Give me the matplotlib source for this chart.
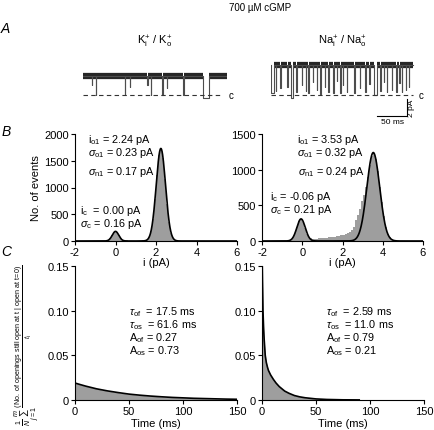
import numpy as np
import matplotlib
matplotlib.use("Agg")
import matplotlib.pyplot as plt

plt.rcParams["font.family"] = ["Liberation Sans", "DejaVu Sans"]
plt.rcParams["font.size"] = 8
plt.rcParams["mathtext.fontset"] = "custom"
plt.rcParams["mathtext.rm"] = "Liberation Sans"
plt.rcParams["mathtext.it"] = "Liberation Sans:italic"
plt.rcParams["mathtext.bf"] = "Liberation Sans:bold"
plt.rcParams["axes.unicode_minus"] = False

# ---- data ----
# A: single channel traces (open level in pA, closures: start ms, duration ms, level pA)
k_open = 2.24
k_closures = [(15, 0.5, 1.2), (21.7, 0.6, 0), (70, 0.5, 0), (78, 0.5, 1.0), (107, 0.5, 1.2),
              (113, 0.5, 0), (132, 0.6, 0), (140, 0.5, 0.8), (167, 0.5, 0), (200, 10, -0.3)]
k_end = 240
na_open = 3.53
na_closures = [(0, 5, 0.2), (8, 1.0, 0.5), (15, 1.0, 0.8), (27, 0.6, 1.0), (33, 3, -0.4),
               (42, 1.0, 0.3), (51, 0.6, 1.2), (58, 0.8, 0.5), (62, 1.0, 0.2), (70, 0.6, 1.5),
               (76, 1.0, 0.6), (82, 1.0, 0.1), (90, 0.6, 1.0), (95, 1.0, 0.3), (104, 0.6, 0.2),
               (110, 0.6, 1.6), (115, 1.0, 0.2), (120, 0.6, 1.2), (126, 0.8, 0.4), (138, 1.5, 0.2),
               (148, 0.6, 0.8), (157, 1.0, 0.3), (164, 0.6, 1.3), (172, 4, 0.0), (182, 0.6, 0.5),
               (188, 0.6, 1.5), (193, 0.8, 0.3), (201, 0.6, 0.6), (209, 0.6, 0.4), (214, 0.6, 1.4),
               (218, 0.6, 0.3), (225, 0.6, 0.6), (230, 0.6, 1.0)]
na_end = 237

# B: amplitude histograms (0.1 pA bins)
k_bin_start = -0.55
k_counts = [0, 4, 17, 53, 116, 172, 170, 118, 58, 22, 12, 10, 9, 8, 8, 7, 7, 8, 9, 12,
            16, 26, 68, 180, 410, 790, 1230, 1610, 1740, 1560, 1150, 700, 360, 150, 55, 16, 4]
na_bin_start = -0.75
na_counts = [2, 7, 21, 55, 118, 200, 278, 305, 265, 186, 105, 62, 42, 33, 32, 34, 36, 38,
             41, 44, 47, 50, 54, 58, 63, 68, 75, 82, 90, 100, 112, 128, 150, 200, 290, 360,
             450, 560, 650, 760, 900, 1060, 1190, 1240, 1150, 980, 760, 540, 345, 200, 105,
             50, 22, 9, 3]
# gaussian fits: (centre, sigma, peak height)
k_fit = [(0.00, 0.16, 180), (2.24, 0.23, 1730)]
na_fit = [(-0.06, 0.21, 310), (3.53, 0.32, 1240)]

# C: open time survivor curves
k_t = [0, 5, 10, 20, 30, 40, 50, 60, 70, 80, 90, 100, 110, 120, 130, 140, 150]
k_surv = [0.019, 0.0172, 0.0155, 0.0125, 0.0102, 0.0083, 0.0066, 0.0054, 0.0044, 0.0036,
          0.0029, 0.0024, 0.0019, 0.0016, 0.0013, 0.0010, 0.0008]
na_t = [0, 0.5, 0.9, 1.5, 2, 3, 4, 5, 6, 8, 10.6, 13, 16, 21, 25, 30, 35, 40, 50, 60, 75, 90]
na_surv = [0.17, 0.13, 0.10, 0.08, 0.068, 0.05, 0.042, 0.037, 0.033, 0.028, 0.023, 0.019,
           0.015, 0.010, 0.0075, 0.005, 0.0035, 0.0025, 0.0012, 0.0006, 0.0002, 0.0001]

W, H = 434, 431


def box(x0, y0, x1, y1):
    return [x0 / W, 1 - y1 / H, (x1 - x0) / W, (y1 - y0) / H]


def ftext(x, y, s, **kw):
    kw.setdefault("va", "center")
    kw.setdefault("ha", "left")
    fig.text(x / W, 1 - y / H, s, **kw)


def style(ax):
    ax.patch.set_visible(False)
    for s in ["top", "right"]:
        ax.spines[s].set_visible(False)
    ax.tick_params(direction="out", length=3, width=0.8, labelsize=8, pad=1.5)


fig = plt.figure(figsize=(W / 100, H / 100), dpi=100)

# ---- A ----
def draw_trace(ax, op, closures, t_end, dash_end):
    xs, ys = [0], [op]
    prev = 0
    for t, d, lv in closures:
        if t > prev:
            ax.plot([prev, t], [op, op], lw=4.5, color="0.15", solid_capstyle="butt")
        xs += [t, t, t + d, t + d]
        ys += [op, lv, lv, op]
        prev = t + d
    ax.plot([prev, t_end], [op, op], lw=4.5, color="0.15", solid_capstyle="butt")
    xs.append(t_end)
    ys.append(op)
    ax.plot(xs, ys, lw=0.8, color="0.3")
    ax.plot([0, dash_end], [0, 0], ls=(0, (4, 3)), lw=0.8, color="0.2")
    ax.text(dash_end + 10, 0, "c", fontsize=7, va="center", ha="left")
    ax.set_xlim(0, 240)
    ax.set_ylim(-3.5, 4.5)
    ax.axis("off")


axa1 = fig.add_axes(box(83, 57.75, 227, 125.75))
draw_trace(axa1, k_open, k_closures, k_end, 232)
axa2 = fig.add_axes(box(271, 57.75, 415, 125.75))
draw_trace(axa2, na_open, na_closures, na_end, 236)
# scale bar: 50 ms, 2 pA
axa2.plot([177, 227, 227], [-2.47, -2.47, -0.47], color="k", lw=0.8, clip_on=False)
axa2.text(202, -3.1, "50 ms", fontsize=6, ha="center", va="center")
axa2.text(234, -1.47, "2 pA", fontsize=6, ha="center", va="center", rotation=90)

ftext(260, 8, "700 µM cGMP", ha="center", fontsize=7)
ftext(155, 42, r"K$^{+}_{\rm i}$ / K$^{+}_{\rm o}$", ha="center", fontsize=8)
ftext(342, 42, r"Na$^{+}_{\rm i}$ / Na$^{+}_{\rm o}$", ha="center", fontsize=8)

# ---- B ----
xf = np.linspace(-2, 6, 600)
for rect, start, counts, fit, ymax in [
        ((75, 135, 237, 242), k_bin_start, k_counts, k_fit, 2000),
        ((262, 135, 423, 242), na_bin_start, na_counts, na_fit, 1500)]:
    ax = fig.add_axes(box(*rect))
    style(ax)
    centres = start + 0.1 * np.arange(len(counts))
    ax.bar(centres, counts, width=0.1, color="#9e9e9e", linewidth=0)
    yf = np.zeros_like(xf)
    for mu, sd, amp in fit:
        yf += amp * np.exp(-(xf - mu) ** 2 / (2 * sd ** 2))
    ax.plot(xf, yf, color="k", lw=1.2)
    ax.set_xlim(-2, 6)
    ax.set_ylim(0, ymax)
    ax.set_xticks([-2, 0, 2, 4, 6])
    ax.set_yticks(np.arange(0, ymax + 1, 500))
    ax.set_xlabel("i (pA)", labelpad=0)
    if ymax == 2000:
        ax.set_ylabel("No. of events", labelpad=2)

ann = dict(fontsize=7.8)
ftext(88, 140, r"i$_{\rm o1}$ = 2.24 pA", **ann)
ftext(88, 153, r"$\sigma_{\rm o1}$ = 0.23 pA", **ann)
ftext(88, 172, r"$\sigma_{\rm n1}$ = 0.17 pA", **ann)
ftext(80, 211, r"i$_{\rm c}$  = 0.00 pA", **ann)
ftext(80, 224, r"$\sigma_{\rm c}$ = 0.16 pA", **ann)
ftext(297, 140, r"i$_{\rm o1}$ = 3.53 pA", **ann)
ftext(297, 153, r"$\sigma_{\rm o1}$ = 0.32 pA", **ann)
ftext(298, 172, r"$\sigma_{\rm n1}$ = 0.24 pA", **ann)
ftext(270, 197, r"i$_{\rm c}$ = -0.06 pA", **ann)
ftext(270, 210, r"$\sigma_{\rm c}$ = 0.21 pA", **ann)

# ---- C ----
for rect, t, s in [((75, 267, 237, 401), k_t, k_surv),
                   ((262, 267, 424, 401), na_t, na_surv)]:
    ax = fig.add_axes(box(*rect))
    style(ax)
    ax.fill_between(t, 0, s, color="#9e9e9e", lw=0)
    ax.plot(t, s, color="k", lw=1.2)
    ax.set_xlim(0, 150)
    ax.set_ylim(0, 0.15)
    ax.set_xticks([0, 50, 100, 150])
    ax.set_yticks([0, 0.05, 0.10, 0.15])
    ax.set_yticklabels(["0", "0.05", "0.10", "0.15"])
    ax.set_xlabel("Time (ms)", labelpad=1)

for x0, vals in [(129, ["17.5 ms", "61.6 ms", "0.27", "0.73"]),
                 (326, ["2.59 ms", "11.0 ms", "0.79", "0.21"])]:
    ftext(x0, 312, r"$\tau_{\rm of}$  = " + vals[0], **ann)
    ftext(x0, 325, r"$\tau_{\rm os}$  = " + vals[1], **ann)
    ftext(x0, 338, r"A$_{\rm of}$ = " + vals[2], **ann)
    ftext(x0, 351, r"A$_{\rm os}$ = " + vals[3], **ann)

ftext(27, 345, r"$\frac{1}{N}\sum_{j=1}^{m}\frac{(\mathrm{No.\ of\ openings\ still\ open\ at\ t\ |\ open\ at\ t\!=\!0})}{t_{\rm i}}$",
      rotation=90, ha="center", fontsize=7.4)

# panel letters
ftext(5, 29, "A", fontsize=10, style="italic", ha="center")
ftext(6, 132, "B", fontsize=10, style="italic", ha="center")
ftext(6, 252, "C", fontsize=10, style="italic", ha="center")

fig.savefig("out.png", dpi=100)
